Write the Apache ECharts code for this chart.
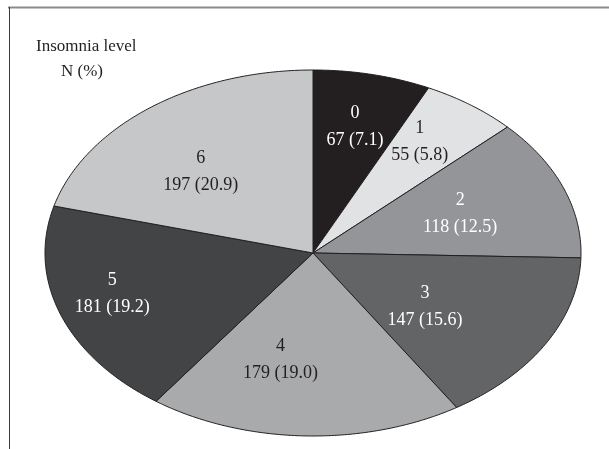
<!DOCTYPE html>
<html>
<head>
<meta charset="utf-8">
<script src="https://cdn.jsdelivr.net/npm/echarts@6/dist/echarts.min.js"></script>
<style>
  html, body { margin: 0; padding: 0; background: #fff; }
  #chart { width: 609px; height: 449px; }
</style>
</head>
<body>
<div id="chart"></div>
<script>
// Insomnia level distribution (N and %)
const levels = ['0', '1', '2', '3', '4', '5', '6'];
const counts = [67, 55, 118, 147, 179, 181, 197];
const percents = ['7.1', '5.8', '12.5', '15.6', '19.0', '19.2', '20.9'];

// Slice fills and label colours
const fills = ['#231f20', '#e1e2e4', '#939598', '#636466', '#a9aaac', '#434446', '#c6c7c9'];
const textColors = ['#ffffff', '#231f20', '#ffffff', '#ffffff', '#231f20', '#ffffff', '#231f20'];
// Label placement: radial fraction along the slice's mid-angle, then a pixel nudge
const labelRadius = [0.71, 0.74, 0.6, 0.54, 0.57, 0.74, 0.62];
const labelShiftX = [0, -10, -3, -14, -28, -14, -11];
const labelShiftY = [0, -2, 0, 5, 3, -5, 9];

// Ellipse geometry
const CX = 313, CY = 253, RX = 268, RY = 183;
const FONT = '"Liberation Serif", "DejaVu Serif", serif';

const total = counts.reduce((a, b) => a + b, 0);
const cumulative = [0];
counts.forEach(v => cumulative.push(cumulative[cumulative.length - 1] + v));

function ellipsePoint(t, f) {
  // t measured clockwise from 12 o'clock
  return [CX + RX * f * Math.sin(t), CY - RY * f * Math.cos(t)];
}

function renderSlice(params) {
  const i = params.dataIndex;
  const a0 = cumulative[i] / total * Math.PI * 2;
  const a1 = cumulative[i + 1] / total * Math.PI * 2;
  const steps = Math.max(8, Math.ceil((a1 - a0) / 0.01));
  const pts = [[CX, CY]];
  for (let k = 0; k <= steps; k++) {
    pts.push(ellipsePoint(a0 + (a1 - a0) * k / steps, 1));
  }
  const mid = (a0 + a1) / 2;
  const lp = ellipsePoint(mid, labelRadius[i]);
  return {
    type: 'group',
    children: [
      {
        type: 'polygon',
        shape: { points: pts },
        style: { fill: fills[i], stroke: '#231f20', lineWidth: 1, lineJoin: 'round' }
      },
      {
        type: 'text',
        x: lp[0] + labelShiftX[i],
        y: lp[1] + labelShiftY[i],
        z2: 10,
        style: {
          text: levels[i] + '\n' + counts[i] + ' (' + percents[i] + ')',
          fill: textColors[i],
          font: '18px ' + FONT,
          lineHeight: 27,
          align: 'center',
          verticalAlign: 'middle'
        }
      }
    ]
  };
}

const chart = echarts.init(document.getElementById('chart'), null, { renderer: 'canvas' });
chart.setOption({
  animation: false,
  backgroundColor: '#ffffff',
  graphic: [
    { type: 'line', shape: { x1: 8, y1: 7.5, x2: 609, y2: 7.5 }, style: { stroke: '#8a8a8a', lineWidth: 2 } },
    { type: 'line', shape: { x1: 9.5, y1: 7, x2: 9.5, y2: 449 }, style: { stroke: '#3a3a3a', lineWidth: 1 } },
    {
      type: 'text', left: 36, top: 38,
      style: { text: 'Insomnia level', fill: '#231f20', font: '17px ' + FONT }
    },
    {
      type: 'text', left: 61, top: 63,
      style: { text: 'N (%)', fill: '#231f20', font: '17px ' + FONT }
    }
  ],
  series: [{
    type: 'custom',
    coordinateSystem: 'none',
    renderItem: renderSlice,
    data: counts
  }]
});
</script>
</body>
</html>
